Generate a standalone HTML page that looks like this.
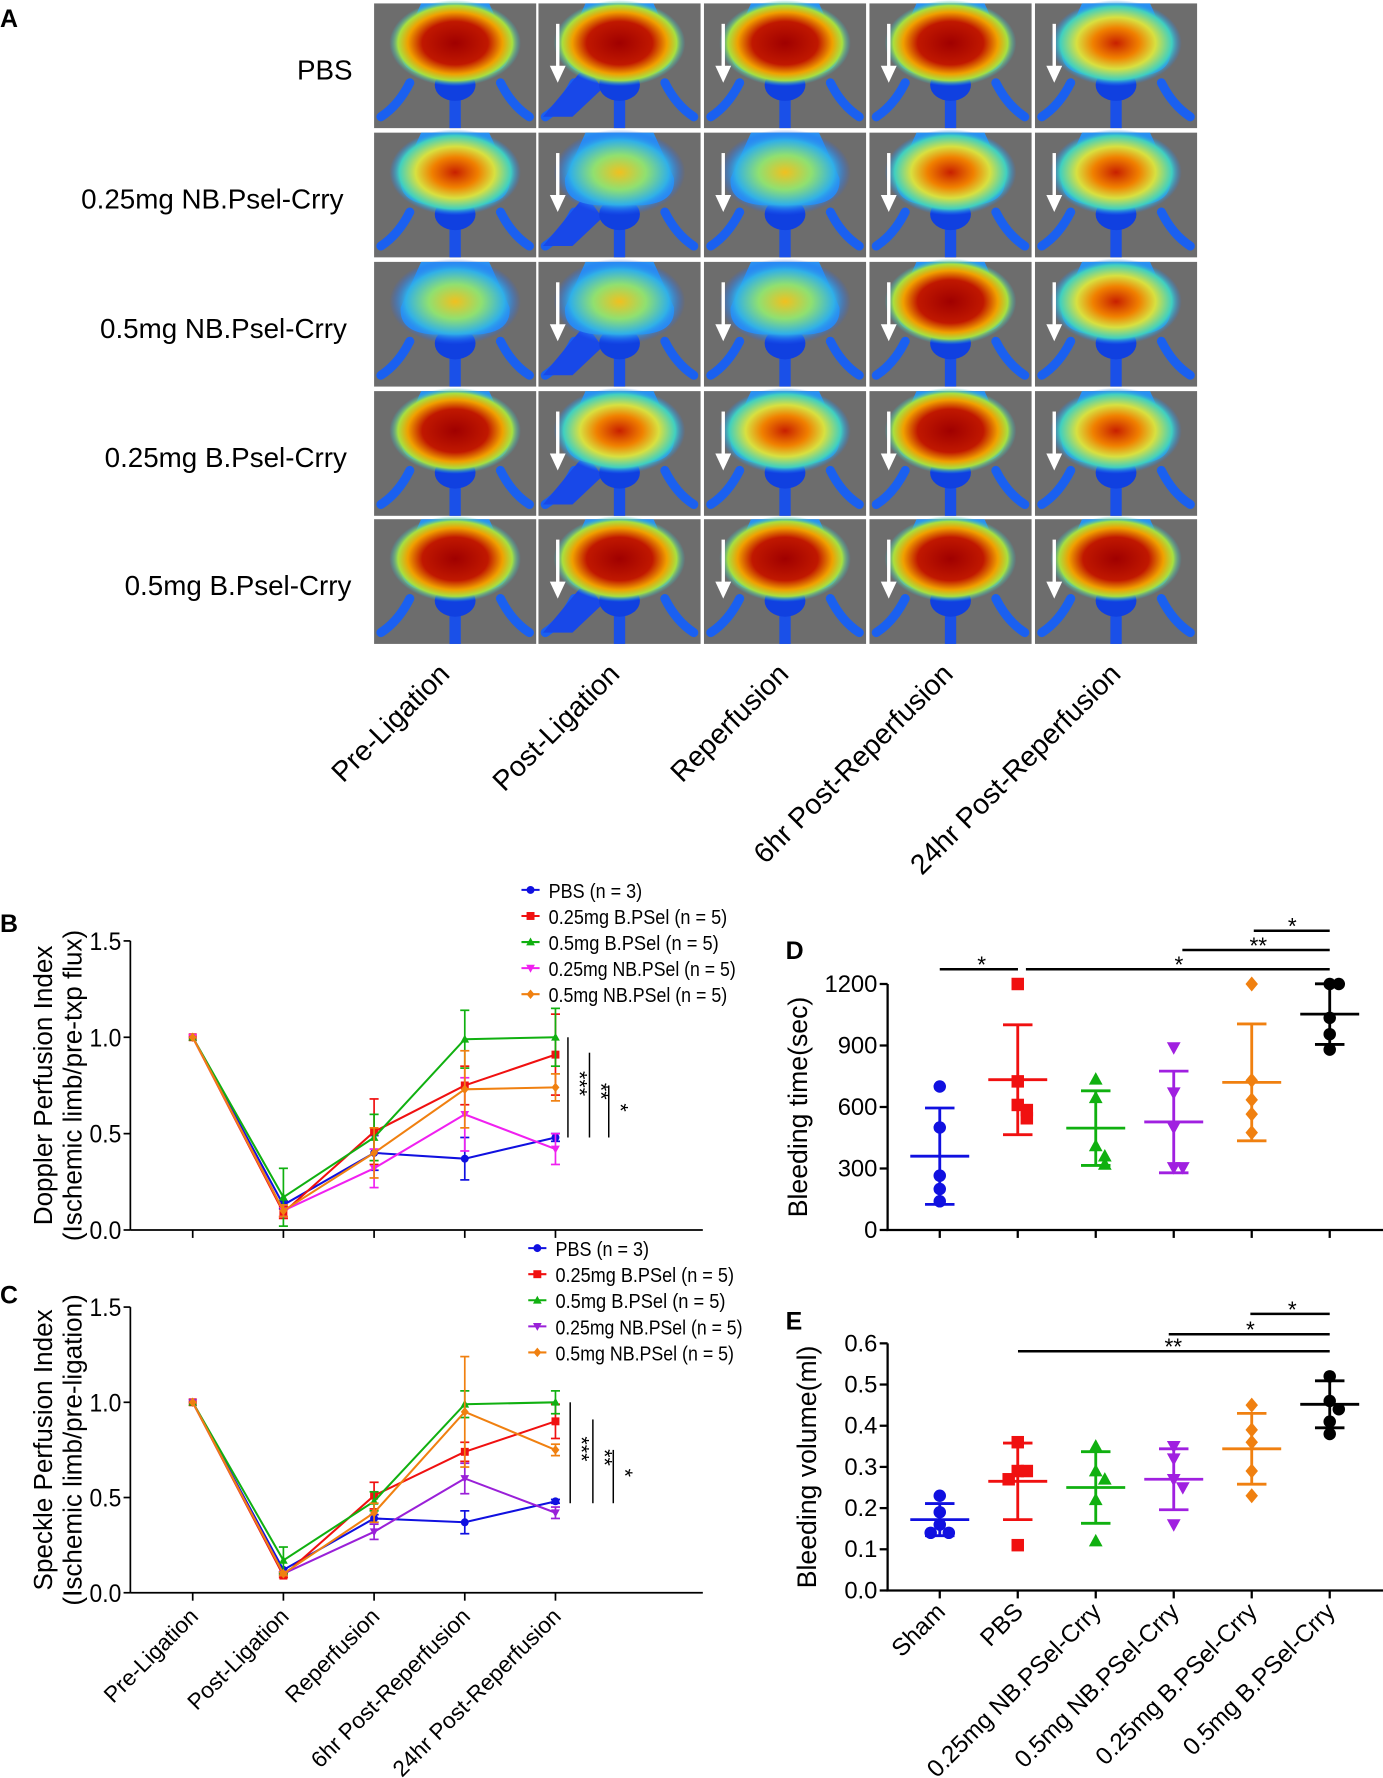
<!DOCTYPE html>
<html><head><meta charset="utf-8"><style>
html,body{margin:0;padding:0;background:#fff;}
svg{display:block;font-family:"Liberation Sans",Arial,sans-serif;}
</style></head><body>
<svg id="fig" width="1383" height="1778" viewBox="0 0 1220 1568.4" xmlns="http://www.w3.org/2000/svg">
<defs>
<radialGradient id="gHot" cx="50%" cy="50%" r="50%"><stop offset="0" stop-color="#a00000"/><stop offset="0.5" stop-color="#c01800"/><stop offset="0.72" stop-color="#f0a000"/><stop offset="0.87" stop-color="#a8e040"/><stop offset="1" stop-color="#20c0e0" stop-opacity="0"/></radialGradient>
<radialGradient id="gMid" cx="50%" cy="50%" r="50%"><stop offset="0" stop-color="#c82000"/><stop offset="0.35" stop-color="#f08000"/><stop offset="0.6" stop-color="#d8e040"/><stop offset="0.85" stop-color="#40d0c0"/><stop offset="1" stop-color="#2080ff" stop-opacity="0"/></radialGradient>
<radialGradient id="gCool" cx="50%" cy="50%" r="50%"><stop offset="0" stop-color="#f0c020"/><stop offset="0.4" stop-color="#90e070"/><stop offset="0.75" stop-color="#30b0e8"/><stop offset="1" stop-color="#2060ff" stop-opacity="0"/></radialGradient>
</defs>
<g id="panelA"></g>
<g id="panelB"></g>
<g id="panelC"></g>
<g id="panelD"></g>
<g id="panelE"></g>
</svg>
<script>
// ---------- data: line charts B & C ----------
const timepoints = ["Pre-Ligation","Post-Ligation","Reperfusion","6hr Post-Reperfusion","24hr Post-Reperfusion"];
const seriesNamesB = ["PBS (n = 3)","0.25mg B.PSel (n = 5)","0.5mg B.PSel (n = 5)","0.25mg NB.PSel (n = 5)","0.5mg NB.PSel (n = 5)"];
const dopplerPBS  = [1.0,0.13,0.40,0.37,0.48];
const dopplerB025 = [1.0,0.09,0.51,0.75,0.91];
const dopplerB05  = [1.0,0.17,0.48,0.99,1.0];
const dopplerNB025= [1.0,0.10,0.32,0.60,0.42];
const dopplerNB05 = [1.0,0.10,0.40,0.73,0.74];
const dopplerErrPBS  = [0,0.02,0.09,0.11,0.02];
const dopplerErrB025 = [0,0.03,0.17,0.10,0.21];
const dopplerErrB05  = [0,0.15,0.12,0.15,0.15];
const dopplerErrNB025= [0,0.03,0.10,0.19,0.08];
const dopplerErrNB05 = [0,0.03,0.13,0.20,0.07];
const specklePBS  = [1.0,0.12,0.39,0.37,0.48];
const speckleB025 = [1.0,0.09,0.51,0.74,0.90];
const speckleB05  = [1.0,0.17,0.48,0.99,1.0];
const speckleNB025= [1.0,0.10,0.32,0.60,0.42];
const speckleNB05 = [1.0,0.10,0.42,0.95,0.75];
const speckleErrPBS  = [0,0.01,0.02,0.06,0.01];
const speckleErrB025 = [0,0.01,0.07,0.05,0.09];
const speckleErrB05  = [0,0.07,0.05,0.07,0.06];
const speckleErrNB025= [0,0.01,0.04,0.08,0.03];
const speckleErrNB05 = [0,0.01,0.05,0.29,0.03];
const lineTicks = [0.0,0.5,1.0,1.5];
// ---------- data: scatter D & E ----------
const groups = ["Sham","PBS","0.25mg NB.PSel-Crry","0.5mg NB.PSel-Crry","0.25mg B.PSel-Crry","0.5mg B.PSel-Crry"];
const timeSham=[700,500,265,200,140], timePBS=[1200,725,610,585,545], timeNB025=[735,645,410,360,320],
      timeNB05=[890,670,500,305,305], timeB025=[1200,730,635,565,475], timeB05=[1200,1200,1035,955,880];
const timeMean=[360,733,497,527,720,1053], timeSD=[235,268,182,248,285,148];
const timeTicks=[0,300,600,900,1200];
const volSham=[0.23,0.19,0.16,0.14,0.14], volPBS=[0.36,0.29,0.29,0.27,0.11], volNB025=[0.35,0.29,0.27,0.22,0.12],
      volNB05=[0.35,0.32,0.27,0.25,0.16], volB025=[0.45,0.39,0.36,0.29,0.23], volB05=[0.52,0.46,0.44,0.41,0.38];
const volMean=[0.172,0.265,0.25,0.27,0.344,0.452], volSD=[0.039,0.093,0.087,0.074,0.086,0.057];
const volTicks=[0.0,0.1,0.2,0.3,0.4,0.5,0.6];

const NS="http://www.w3.org/2000/svg";
function mk(parent,tag,attrs,text){const e=document.createElementNS(NS,tag);for(const k in attrs)e.setAttribute(k,attrs[k]);if(text!==undefined)e.textContent=text;parent.appendChild(e);return e;}

// ---------- Panel A ----------
(function(){
  const g=document.getElementById('panelA');
  const t=mk(g,'text',{x:0,y:24,'font-size':22,'font-weight':'bold'},'A');
  
  
  const rowLabels=["PBS","0.25mg NB.Psel-Crry","0.5mg NB.Psel-Crry","0.25mg B.Psel-Crry","0.5mg B.Psel-Crry"];
  const rowX=[311,303,306,306,310];
  const colLabels=["Pre-Ligation","Post-Ligation","Reperfusion","6hr Post-Reperfusion","24hr Post-Reperfusion"];
  const colX=[330,475,621,767,913], rowY=[3,117,231,345,458];
  const heat=[["gHot","gHot","gHot","gHot","gMid"],["gMid","gCool","gCool","gMid","gMid"],["gCool","gCool","gCool","gHot","gMid"],["gHot","gMid","gMid","gHot","gMid"],["gHot","gHot","gHot","gHot","gHot"]];
  rowLabels.forEach((lab,r)=>{
    const tl=mk(g,'text',{x:rowX[r],y:rowY[r]+67,'font-size':24.5,'text-anchor':'end'},lab);
    
    
    colX.forEach((cx,c)=>{
      const w=143,h=110,y=rowY[r];
      const cell=mk(g,'g',{});
      
      
      mk(cell,'rect',{x:cx,y:y,width:w,height:h,fill:'#6d6d6d'});
      const m=cx+w/2;
      mk(cell,'path',{d:`M${m-40} ${y+70} Q${m-50} ${y+90} ${cx+6} ${y+100}`,stroke:'#1a60f0','stroke-width':8,fill:'none','stroke-linecap':'round'});
      if(c===1) mk(cell,'path',{d:`M${m-30} ${y+55} L${cx+4} ${y+100} L${cx+30} ${y+100} L${m-15} ${y+75}Z`,fill:'#1848e8'});
      mk(cell,'path',{d:`M${m+40} ${y+70} Q${m+50} ${y+90} ${cx+w-6} ${y+100}`,stroke:'#1a60f0','stroke-width':8,fill:'none','stroke-linecap':'round'});
      mk(cell,'rect',{x:m-5,y:y+60,width:10,height:h-60,fill:'#1a50e8'});
      mk(cell,'ellipse',{cx:m,cy:y+72,rx:18,ry:14,fill:'#1040e0'});
      mk(cell,'path',{d:`M${m-30} ${y} L${m+30} ${y} L${m+48} ${y+40} Q${m+50} ${y+62} ${m+20} ${y+64} L${m-20} ${y+64} Q${m-50} ${y+62} ${m-48} ${y+40} Z`,fill:'#2a90f0'});
      mk(cell,'ellipse',{cx:m,cy:y+35,rx:58,ry:38,fill:`url(#${heat[r][c]})`});
      if(c>0){
        const ax=cx+17;
        mk(cell,'line',{x1:ax,y1:y+18,x2:ax,y2:y+58,stroke:'#fff','stroke-width':3});
        mk(cell,'path',{d:`M${ax-7} ${y+55} L${ax+7} ${y+55} L${ax} ${y+70}Z`,fill:'#fff'});
      }
    });
  });
  colLabels.forEach((lab,c)=>{
    const ex=[398,548,697,842,990][c];
    const tl=mk(g,'text',{x:ex,y:596,'font-size':25,'text-anchor':'end',transform:`rotate(-45 ${ex} 596)`},lab);
    
    
  });
})();

function marker(g,shape,x,y,s,color){
  let e;
  if(shape==='circle') e=mk(g,'circle',{cx:x,cy:y,r:s,fill:color});
  else if(shape==='square') e=mk(g,'rect',{x:x-s,y:y-s,width:2*s,height:2*s,fill:color});
  else if(shape==='up') e=mk(g,'path',{d:`M${x} ${y-s*1.15} L${x+s*1.1} ${y+s*0.85} L${x-s*1.1} ${y+s*0.85}Z`,fill:color});
  else if(shape==='down') e=mk(g,'path',{d:`M${x} ${y+s*1.15} L${x+s*1.1} ${y-s*0.85} L${x-s*1.1} ${y-s*0.85}Z`,fill:color});
  else e=mk(g,'path',{d:`M${x} ${y-s*1.2} L${x+s} ${y} L${x} ${y+s*1.2} L${x-s} ${y}Z`,fill:color});
  return e;
}

function lineChart(id,cfg){
  const g=document.getElementById(id);
  const x0=115,x1=620,yTop=cfg.yTop,yBot=cfg.yBot;
  const xs=i=>170+i*80;
  const ys=v=>yBot-(v/1.5)*(yBot-yTop);
  const pl=mk(g,'text',{x:0,y:cfg.labelY,'font-size':22,'font-weight':'bold'},cfg.letter);
  
  
  const ya=mk(g,'line',{x1:x0,y1:yTop,x2:x0,y2:yBot,stroke:'#000','stroke-width':1.5});
  
  
  const xa=mk(g,'line',{x1:x0,y1:yBot,x2:x1,y2:yBot,stroke:'#000','stroke-width':1.5});
  
  
  lineTicks.forEach(v=>{
    mk(g,'line',{x1:x0-6,y1:ys(v),x2:x0,y2:ys(v),stroke:'#000','stroke-width':1.5});
    const t=mk(g,'text',{x:x0-8,y:ys(v)+8,'font-size':22,'text-anchor':'end','textLength':28,'lengthAdjust':'spacingAndGlyphs'},v.toFixed(1));
    
    
  });
  timepoints.forEach((tp,i)=>{
    mk(g,'line',{x1:xs(i),y1:yBot,x2:xs(i),y2:yBot+7,stroke:'#000','stroke-width':1.5});
    if(cfg.xLabels){
      const lx=xs(i)+6,ly=yBot+22;
      const t=mk(g,'text',{x:lx,y:ly,'font-size':20,'text-anchor':'end',transform:`rotate(-45 ${lx} ${ly})`},tp);
      
      
    }
  });
  const cy=(yTop+yBot)/2;
  const t1=mk(g,'text',{x:46,y:cy,'font-size':23,'text-anchor':'middle',transform:`rotate(-90 46 ${cy})`},cfg.title1);
  
  
  const t2=mk(g,'text',{x:72,y:cy,'font-size':23,'text-anchor':'middle',transform:`rotate(-90 72 ${cy})`},cfg.title2);
  
  
  cfg.series.forEach((s,k)=>{
    const sg=mk(g,'g',{});
    
    
    s.err.forEach((e,i)=>{ if(e>0){
      mk(sg,'line',{x1:xs(i),y1:ys(s.vals[i]-e),x2:xs(i),y2:ys(s.vals[i]+e),stroke:s.color,'stroke-width':1.5});
      mk(sg,'line',{x1:xs(i)-4,y1:ys(s.vals[i]+e),x2:xs(i)+4,y2:ys(s.vals[i]+e),stroke:s.color,'stroke-width':1.5});
      mk(sg,'line',{x1:xs(i)-4,y1:ys(s.vals[i]-e),x2:xs(i)+4,y2:ys(s.vals[i]-e),stroke:s.color,'stroke-width':1.5});
    }});
    const pts=s.vals.map((v,i)=>xs(i)+','+ys(v)).join(' ');
    const pl=mk(sg,'polyline',{points:pts,fill:'none',stroke:s.color,'stroke-width':1.8});
    
    
    s.vals.forEach((v,i)=>{const m=marker(sg,s.shape,xs(i),ys(v),3.5,s.color);
      
      });
  });
  cfg.series.forEach((s,k)=>{
    const ly=cfg.legY+k*cfg.legStep;
    const lg=mk(g,'g',{});
    
    
    mk(lg,'line',{x1:cfg.legX-8,y1:ly,x2:cfg.legX+8,y2:ly,stroke:s.color,'stroke-width':1.8});
    marker(lg,s.shape,cfg.legX,ly,3.5,s.color);
    const txt=seriesNamesB[k];
    mk(lg,'text',{x:cfg.legX+16,y:ly+7,'font-size':18,'textLength':txt.length*7.5,'lengthAdjust':'spacingAndGlyphs'},txt);
  });
  cfg.sig.forEach(b=>{
    const sg=mk(g,'g',{});
    
    
    mk(sg,'line',{x1:b[0],y1:ys(b[1]),x2:b[0],y2:ys(b[2]),stroke:'#000','stroke-width':1.3});
    const sx=b[0]+4,sy=ys((b[1]+b[2])/2+0.02);
    mk(sg,'text',{x:sx,y:sy,'font-size':19,'text-anchor':'middle',transform:`rotate(90 ${sx} ${sy})`},b[3]);
  });
}
lineChart('panelB',{letter:'B',labelY:822,yTop:830,yBot:1085,xLabels:false,
  title1:'Doppler Perfusion Index',title2:'(Ischemic limb/pre-txp flux)',
  legX:468,legY:785,legStep:23,
  sig:[[501,0.48,1.0,'***'],[520,0.48,0.92,'**'],[537,0.48,0.75,'*']],
  series:[
    {vals:dopplerPBS,err:dopplerErrPBS,color:'#1010e0',shape:'circle'},
    {vals:dopplerB025,err:dopplerErrB025,color:'#f01010',shape:'square'},
    {vals:dopplerB05,err:dopplerErrB05,color:'#10b010',shape:'up'},
    {vals:dopplerNB025,err:dopplerErrNB025,color:'#f020f0',shape:'down'},
    {vals:dopplerNB05,err:dopplerErrNB05,color:'#f08010',shape:'diamond'}]});
lineChart('panelC',{letter:'C',labelY:1150,yTop:1153,yBot:1405,xLabels:true,
  title1:'Speckle Perfusion Index',title2:'(Ischemic limb/pre-ligation)',
  legX:474,legY:1101,legStep:23,
  sig:[[503,0.47,1.0,'***'],[523,0.47,0.91,'**'],[541,0.47,0.75,'*']],
  series:[
    {vals:specklePBS,err:speckleErrPBS,color:'#1010e0',shape:'circle'},
    {vals:speckleB025,err:speckleErrB025,color:'#f01010',shape:'square'},
    {vals:speckleB05,err:speckleErrB05,color:'#10b010',shape:'up'},
    {vals:speckleNB025,err:speckleErrNB025,color:'#9a20d8',shape:'down'},
    {vals:speckleNB05,err:speckleErrNB05,color:'#f08010',shape:'diamond'}]});

const groupColors=['#1010e0','#f01010','#10b010','#a020e0','#f08010','#000000'];
const groupShapes=['circle','square','up','down','diamond','circle'];
function scatterChart(id,cfg){
  const g=document.getElementById(id);
  const x0=783,x1=1220,yTop=cfg.yTop,yBot=cfg.yBot;
  const xs=i=>829+i*68.8;
  const ys=v=>yBot-(v/cfg.max)*(yBot-yTop);
  const pl=mk(g,'text',{x:693,y:cfg.labelY,'font-size':22,'font-weight':'bold'},cfg.letter);
  
  
  const ya=mk(g,'line',{x1:x0,y1:yTop,x2:x0,y2:yBot,stroke:'#000','stroke-width':2});
  
  
  const xa=mk(g,'line',{x1:x0-1,y1:yBot,x2:x1,y2:yBot,stroke:'#000','stroke-width':2});
  
  
  cfg.ticks.forEach(v=>{
    mk(g,'line',{x1:x0-7,y1:ys(v),x2:x0,y2:ys(v),stroke:'#000','stroke-width':2});
    const t=mk(g,'text',{x:x0-9,y:ys(v)+7,'font-size':21,'text-anchor':'end'},cfg.fmt(v));
    
    
  });
  groups.forEach((gr,i)=>{
    mk(g,'line',{x1:xs(i),y1:yBot,x2:xs(i),y2:yBot+7,stroke:'#000','stroke-width':2});
    if(cfg.xLabels){
      const lx=xs(i)+6,ly=yBot+20;
      const t=mk(g,'text',{x:lx,y:ly,'font-size':21.5,'text-anchor':'end',transform:`rotate(-45 ${lx} ${ly})`},gr);
      
      
    }
  });
  const cy=(yTop+yBot)/2;
  const tt=mk(g,'text',{x:cfg.titleX,y:cy,'font-size':23.5,'text-anchor':'middle',transform:`rotate(-90 ${cfg.titleX} ${cy})`},cfg.title);
  
  
  cfg.data.forEach((vals,i)=>{
    const gg=mk(g,'g',{});
    
    
    const c=groupColors[i];
    const m=cfg.mean[i],sd=cfg.sd[i];
    mk(gg,'line',{x1:xs(i),y1:ys(m-sd),x2:xs(i),y2:ys(m+sd),stroke:c,'stroke-width':2.5});
    mk(gg,'line',{x1:xs(i)-13,y1:ys(m+sd),x2:xs(i)+13,y2:ys(m+sd),stroke:c,'stroke-width':2.5});
    mk(gg,'line',{x1:xs(i)-13,y1:ys(m-sd),x2:xs(i)+13,y2:ys(m-sd),stroke:c,'stroke-width':2.5});
    const ml=mk(gg,'line',{x1:xs(i)-26,y1:ys(m),x2:xs(i)+26,y2:ys(m),stroke:c,'stroke-width':2.5});
    
    
    const placed=[];
    vals.forEach(v=>{
      const near=placed.filter(p=>Math.abs(p-v)<cfg.max*0.045).length;
      const off=near===0?0:(near%2?1:-1)*8*Math.ceil(near/2);
      placed.push(v);
      const mkr=marker(gg,groupShapes[i],xs(i)+off,ys(v),5.5,c);
      
      
    });
  });
  cfg.sig.forEach(b=>{
    const sg=mk(g,'g',{});
    
    
    mk(sg,'line',{x1:b[0],y1:b[2],x2:b[1],y2:b[2],stroke:'#000','stroke-width':2.2});
    mk(sg,'text',{x:b[3],y:b[2]+3,'font-size':20,'text-anchor':'middle'},b[4]);
  });
}
scatterChart('panelD',{letter:'D',labelY:846,yTop:868,yBot:1085,max:1200,ticks:timeTicks,fmt:v=>String(v),
  xLabels:false,title:'Bleeding time(sec)',titleX:712,
  data:[timeSham,timePBS,timeNB025,timeNB05,timeB025,timeB05],mean:timeMean,sd:timeSD,
  sig:[[829,898,855,866,'*'],[905,1173,855,1040,'*'],[1043,1173,838,1110,'**'],[1106,1173,821,1140,'*']]});
scatterChart('panelE',{letter:'E',labelY:1173,yTop:1185,yBot:1403,max:0.6,ticks:volTicks,fmt:v=>v.toFixed(1),
  xLabels:true,title:'Bleeding volume(ml)',titleX:720,
  data:[volSham,volPBS,volNB025,volNB05,volB025,volB05],mean:volMean,sd:volSD,
  sig:[[898,1173,1192,1035,'**'],[1031,1173,1177,1103,'*'],[1103,1173,1159,1140,'*']]});
</script>
</body></html>
